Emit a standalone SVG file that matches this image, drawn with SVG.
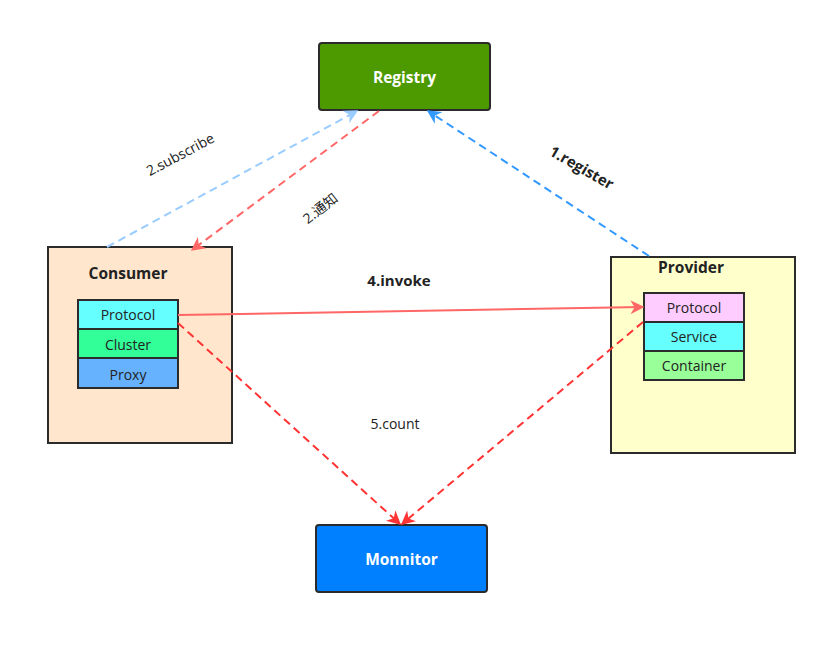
<svg xmlns="http://www.w3.org/2000/svg" width="821" height="654" viewBox="0 0 821 654">
<defs>
<style>
text{font-family:"Open Sans","Noto Sans","Noto Sans CJK SC",sans-serif;fill:#222;}
.box{stroke:#2b2b2b;stroke-width:2;}
.sub{stroke:#2b2b2b;stroke-width:2;}
.t{font-size:14px;text-anchor:middle;dominant-baseline:central;}
.b{font-weight:bold;font-size:15px;}
.w{fill:#ffffff;font-size:15.5px;font-weight:bold;text-anchor:middle;dominant-baseline:central;}
.c{fill:none;stroke-width:2;}
.d{stroke-dasharray:8,5;}
</style>
<marker id="aLB" viewBox="0 0 10 10" refX="9" refY="5" markerWidth="7" markerHeight="7" orient="auto" markerUnits="strokeWidth"><path d="M0,0 L10,5 L0,10 L3,5 z" fill="#99ccff"/></marker>
<marker id="aB" viewBox="0 0 10 10" refX="9" refY="5" markerWidth="7" markerHeight="7" orient="auto" markerUnits="strokeWidth"><path d="M0,0 L10,5 L0,10 L3,5 z" fill="#3399ff"/></marker>
<marker id="aR" viewBox="0 0 10 10" refX="9" refY="5" markerWidth="7" markerHeight="7" orient="auto" markerUnits="strokeWidth"><path d="M0,0 L10,5 L0,10 L3,5 z" fill="#ff6666"/></marker>
<marker id="aRR" viewBox="0 0 10 10" refX="9" refY="5" markerWidth="7" markerHeight="7" orient="auto" markerUnits="strokeWidth"><path d="M0,0 L10,5 L0,10 L3,5 z" fill="#ff3333"/></marker>
</defs>
<rect width="821" height="654" fill="#ffffff"/>
<g id="registry">
<rect class="box" x="319" y="43" width="171" height="67" rx="3" fill="#4d9900"/>
<text class="w" x="404.5" y="77">Registry</text>
</g>
<g id="consumer">
<rect class="box" x="48" y="247" width="184" height="196" fill="#ffe6cc"/>
<text class="t b" x="128" y="273" style="font-size:15.5px">Consumer</text>
<rect class="sub" x="78" y="300" width="100" height="29" fill="#66ffff"/>
<text class="t" x="128" y="314.5">Protocol</text>
<rect class="sub" x="78" y="329" width="100" height="29" fill="#33ff99"/>
<text class="t" x="128" y="344.5" fill="#333">Cluster</text>
<rect class="sub" x="78" y="358" width="100" height="30" fill="#66b2ff"/>
<text class="t" x="128" y="374" fill="#333">Proxy</text>
</g>
<g id="provider">
<rect class="box" x="611" y="257" width="184" height="196" fill="#ffffcc"/>
<text class="t b" x="691" y="267" style="font-size:15.5px">Provider</text>
<rect class="sub" x="644" y="293" width="100" height="29" fill="#ffccff"/>
<text class="t" x="694" y="307.5">Protocol</text>
<rect class="sub" x="644" y="322" width="100" height="29" fill="#66ffff"/>
<text class="t" x="694" y="336.5">Service</text>
<rect class="sub" x="644" y="351" width="100" height="29" fill="#99ff99"/>
<text class="t" x="694" y="365.5">Container</text>
</g>
<g id="monitor">
<rect class="box" x="316" y="525" width="171" height="67" rx="3" fill="#007fff"/>
<text class="w" x="401.5" y="559">Monnitor</text>
</g>
<g id="connectors">
<line class="c d" x1="107" y1="247" x2="357" y2="111" stroke="#99ccff" marker-end="url(#aLB)"/>
<line class="c d" x1="379" y1="111" x2="192" y2="250" stroke="#ff6666" marker-end="url(#aR)"/>
<line class="c d" x1="649" y1="256" x2="428" y2="111" stroke="#3399ff" marker-end="url(#aB)"/>
<line class="c" x1="178" y1="315" x2="643" y2="307" stroke="#ff6666" marker-end="url(#aR)"/>
<line class="c d" x1="178" y1="323" x2="400" y2="524" stroke="#ff3333" marker-end="url(#aRR)"/>
<line class="c d" x1="643" y1="322" x2="402" y2="524" stroke="#ff3333" marker-end="url(#aRR)"/>
</g>
<g id="labels">
<text class="t" x="180" y="154" transform="rotate(-28 180 154)">2.subscribe</text>
<text class="t" x="320" y="208" transform="rotate(-38 320 208)">2.通知</text>
<text class="t b" x="582" y="167" transform="rotate(30 582 167)">1.register</text>
<text class="t b" x="399" y="280">4.invoke</text>
<text class="t" x="395" y="423">5.count</text>
</g>
</svg>
